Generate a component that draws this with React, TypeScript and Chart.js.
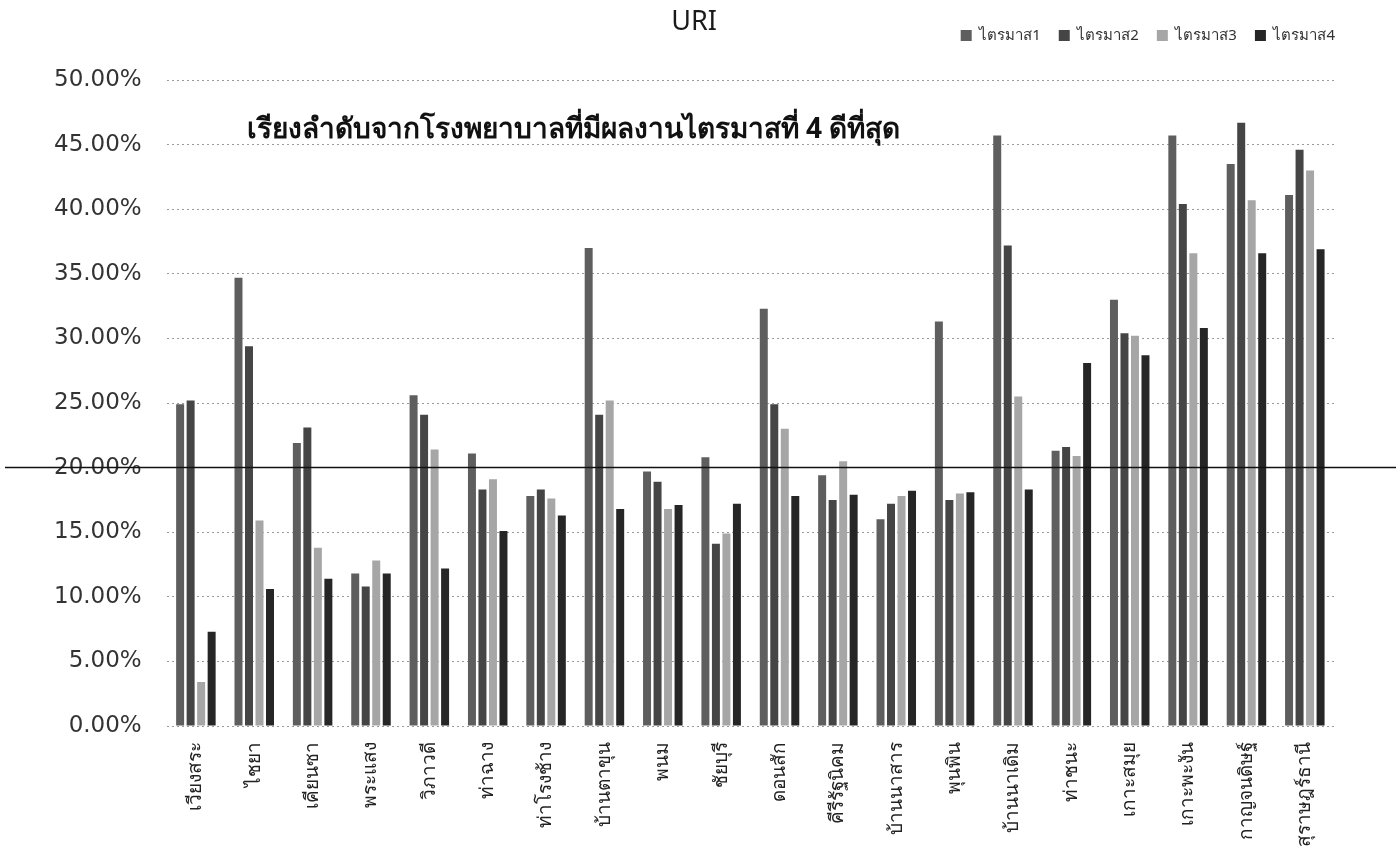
import React, { useEffect, useRef } from "react";
import { Chart, registerables } from "chart.js";

Chart.register(...registerables);

const categories = [
  "เวียงสระ", "ไชยา", "เคียนซา", "พระแสง", "วิภาวดี", "ท่าฉาง", "ท่าโรงช้าง",
  "บ้านตาขุน", "พนม", "ชัยบุรี", "ดอนสัก", "คีรีรัฐนิคม", "บ้านนาสาร", "พุนพิน",
  "บ้านนาเดิม", "ท่าชนะ", "เกาะสมุย", "เกาะพะงัน", "กาญจนดิษฐ์", "สุราษฎร์ธานี",
];

const q1 = [24.9, 34.7, 21.9, 11.8, 25.6, 21.1, 17.8, 37.0, 19.7, 20.8, 32.3, 19.4, 16.0, 31.3, 45.7, 21.3, 33.0, 45.7, 43.5, 41.1];
const q2 = [25.2, 29.4, 23.1, 10.8, 24.1, 18.3, 18.3, 24.1, 18.9, 14.1, 24.9, 17.5, 17.2, 17.5, 37.2, 21.6, 30.4, 40.4, 46.7, 44.6];
const q3 = [3.4, 15.9, 13.8, 12.8, 21.4, 19.1, 17.6, 25.2, 16.8, 14.9, 23.0, 20.5, 17.8, 18.0, 25.5, 20.9, 30.2, 36.6, 40.7, 43.0];
const q4 = [7.3, 10.6, 11.4, 11.8, 12.2, 15.1, 16.3, 16.8, 17.1, 17.2, 17.8, 17.9, 18.2, 18.1, 18.3, 28.1, 28.7, 30.8, 36.6, 36.9];

const seriesNames = ["ไตรมาส1", "ไตรมาส2", "ไตรมาส3", "ไตรมาส4"];
const seriesColors = ["#5e5e5e", "#454545", "#a6a6a6", "#262626"];

const titleText = "URI";
const noteText = "เรียงลำดับจากโรงพยาบาลที่มีผลงานไตรมาสที่ 4 ดีที่สุด";
const targetValue = 20;
const noteValue = 46.1;
const yMin = 0;
const yMax = 50;
const yStep = 5;

const FONT = "'Noto Sans', 'Open Sans', sans-serif";
const TICKFONT = "'DejaVu Sans', sans-serif";

const legendSpacePlugin = {
  id: "legendSpace",
  beforeInit(chart: any) {
    const legend = chart.legend;
    if (!legend) return;
    const orig = legend.fit;
    legend.fit = function () {
      orig.call(this);
      this.height += 25;
    };
  },
  afterLayout(chart: any) {
    if (chart.legend) {
      chart.legend.left += 19;
      chart.legend.right += 19;
      chart.legend.top -= 2;
    }
  },
};

const refLinePlugin = {
  id: "refLine",
  afterDatasetsDraw(chart: any) {
    const { ctx, scales, chartArea } = chart;
    const y = scales.y.getPixelForValue(targetValue);
    ctx.save();
    ctx.strokeStyle = "#111";
    ctx.lineWidth = 1.5;
    ctx.beginPath();
    ctx.moveTo(5, y);
    ctx.lineTo(chart.width, y);
    ctx.stroke();
    ctx.fillStyle = "#111";
    ctx.font = `bold 28px ${FONT}`;
    ctx.textBaseline = "middle";
    ctx.textAlign = "left";
    ctx.fillText(noteText, chartArea.left + 80, scales.y.getPixelForValue(noteValue));
    ctx.font = `27px ${FONT}`;
    ctx.textAlign = "center";
    ctx.fillStyle = "#1a1a1a";
    ctx.fillText(titleText, 694, 22);
    ctx.restore();
  },
};

export default function App() {
  const ref = useRef<HTMLCanvasElement | null>(null);
  useEffect(() => {
    if (!ref.current) return;
    const data = [q1, q2, q3, q4];
    const chart = new Chart(ref.current, {
      type: "bar",
      data: {
        labels: categories,
        datasets: seriesNames.map((n, i) => ({
          label: n,
          data: data[i],
          backgroundColor: seriesColors[i],
          borderWidth: 0,
          barPercentage: 0.76,
          categoryPercentage: 0.72,
        })),
      },
      options: {
        animation: false,
        responsive: true,
        maintainAspectRatio: false,
        layout: { padding: { left: 29, right: 62, top: 12, bottom: 0 } },
        plugins: {
          title: { display: false },
          legend: {
            display: true,
            align: "end",
            labels: {
              boxWidth: 11,
              boxHeight: 11,
              color: "#333",
              font: { family: FONT, size: 15 },
              padding: 18,
            },
          },
          tooltip: { enabled: false },
        },
        scales: {
          x: {
            grid: { display: false },
            border: { display: false },
            ticks: {
              autoSkip: false,
              maxRotation: 90,
              minRotation: 90,
              color: "#222",
              font: { family: FONT, size: 19 },
              padding: 8,
            },
          },
          y: {
            min: yMin,
            max: yMax,
            border: { display: false, dash: [2, 3] },
            grid: { color: "#9a9a9a", drawTicks: false },
            ticks: {
              stepSize: yStep,
              color: "#333",
              padding: 25,
              font: { family: TICKFONT, size: 23 },
              callback: (v: any) => Number(v).toFixed(2) + "%",
            },
          },
        },
      },
      plugins: [legendSpacePlugin, refLinePlugin],
    });
    return () => chart.destroy();
  }, []);
  return (
    <div style={{ position: "absolute", left: 0, top: 0, width: 1396, height: 855, background: "#fff" }}>
      <canvas ref={ref} />
    </div>
  );
}
